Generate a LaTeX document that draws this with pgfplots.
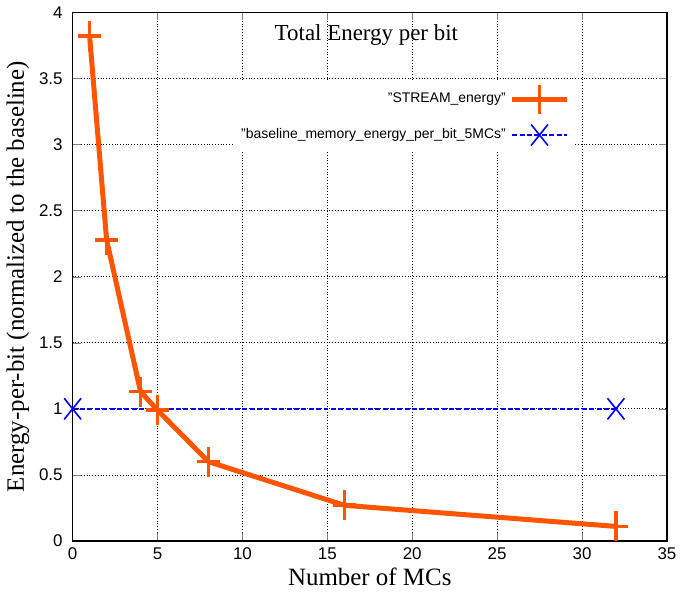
\documentclass[border=0pt]{standalone}
\usepackage{pgfplots}
\pgfplotsset{compat=1.18}
\usepackage{fontspec}
\setmainfont{Liberation Serif}
\setsansfont{Liberation Sans}
\definecolor{streamorange}{RGB}{255,85,0}
\begin{document}
\begin{tikzpicture}
\begin{axis}[
    scale only axis,
    width=298pt, height=265pt,
    xmin=0, xmax=35, ymin=0, ymax=4,
    xtick={0,5,...,35},
    ytick={0,0.5,...,4},
    yticklabels={0,0.5,1,1.5,2,2.5,3,3.5,4},
    tick label style={font=\sffamily\fontsize{8.5}{10}\selectfont},
    yticklabel style={xshift=-1.5pt},
    /pgf/number format/assume math mode=true,
    tick align=inside,
    major tick length=4pt,
    axis line style={line width=0.8pt},
    grid=major,
    grid style={black, densely dotted, line width=0.4pt},
    xlabel={Number of MCs},
    ylabel={Energy-per-bit (normalized to the baseline)},
    label style={font=\fontsize{12.5}{14}\selectfont},
    xlabel style={yshift=3pt},
    ylabel style={yshift=-2pt},
    legend plot pos=right,
    legend cell align=right,
    legend image code/.code={
        \draw[mark repeat=2, mark phase=2, #1]
            plot coordinates {(0cm,0cm) (0.48cm,0cm) (0.96cm,0cm)};
    },
    legend style={at={(0.843,0.872)}, anchor=north east, draw=none, fill=white,
        font=\sffamily\fontsize{7}{8.5}\selectfont, row sep=5pt,
        inner xsep=2pt, inner ysep=2pt},
]
\addplot[streamorange, line width=2.5pt, mark=+,
    mark options={line width=1.8pt, xscale=0.78}, mark size=7.5pt]
    coordinates {
        (1, 3.82) (2, 2.28) (4, 1.13) (5, 0.99) (8, 0.60) (16, 0.27) (32, 0.11)
    };
\addlegendentry{"STREAM\_energy"}
\addplot[blue, line width=1pt, dash pattern=on 2.5pt off 1.2pt, mark=x,
    mark options={solid, line width=0.8pt, xscale=0.8}, mark size=7.5pt]
    coordinates {(0, 1) (32, 1)};
\addlegendentry{"baseline\_memory\_energy\_per\_bit\_5MCs"}
\node[font=\fontsize{11.5}{13}\selectfont, anchor=center] at (axis cs:17.3,3.83) {Total Energy per bit};
\end{axis}
\end{tikzpicture}
\end{document}
